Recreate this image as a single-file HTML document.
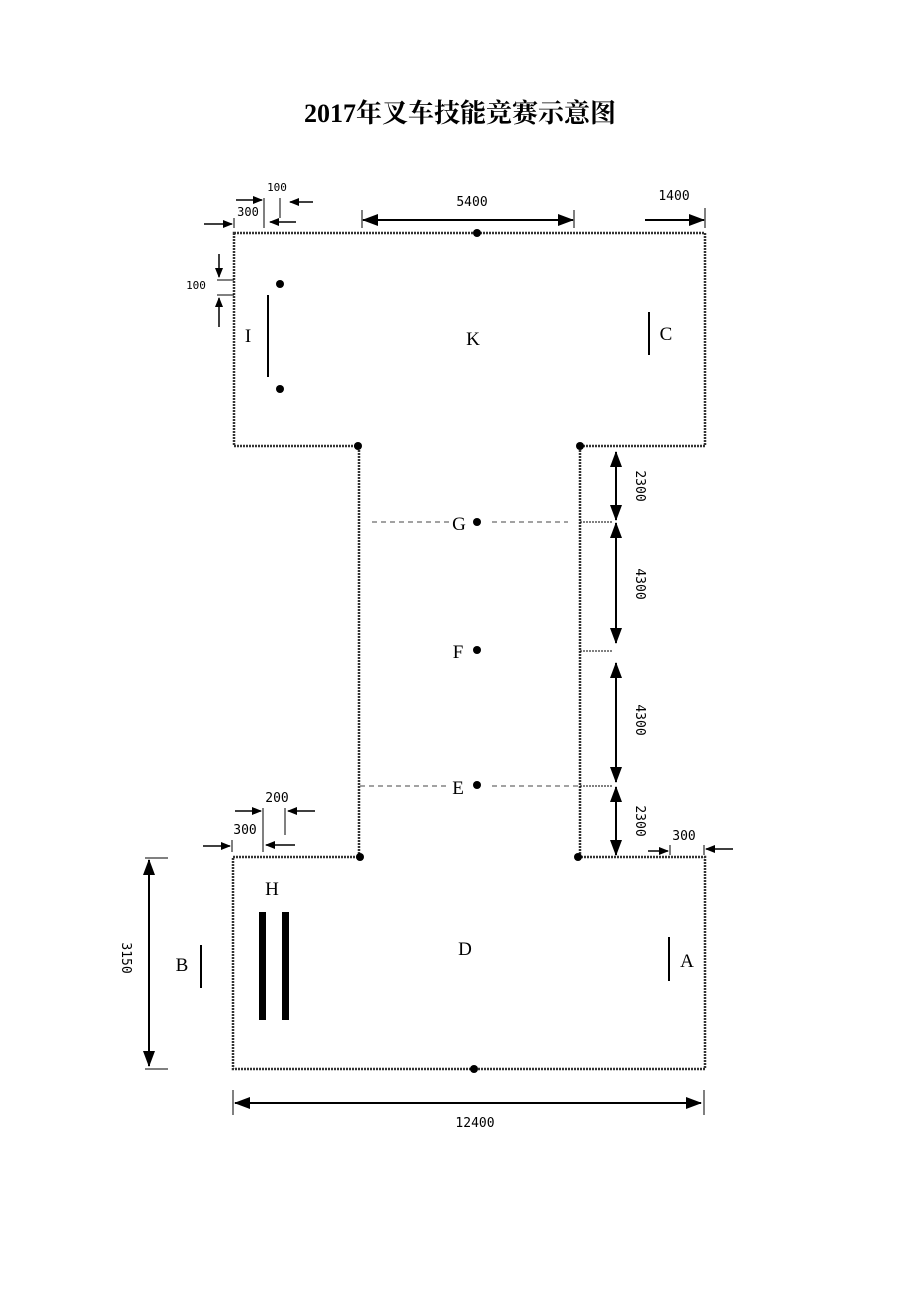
<!DOCTYPE html><html><head><style>body{margin:0;background:#fff}svg{display:block}</style></head><body>
<svg width="920" height="1302" xmlns="http://www.w3.org/2000/svg" font-family="Liberation Serif, serif">
<defs><marker id="a" markerWidth="10" markerHeight="8" refX="9" refY="4" orient="auto" markerUnits="userSpaceOnUse"><path d="M0,0L10,4L0,8z"/></marker>
<marker id="b" markerWidth="16" markerHeight="12" refX="15" refY="6" orient="auto" markerUnits="userSpaceOnUse"><path d="M0,0L16,6L0,12z"/></marker></defs>
<text x="460" y="122" font-size="26" font-weight="bold" text-anchor="middle" font-family="Liberation Serif, Noto Serif CJK SC, serif">2017年叉车技能竞赛示意图</text>
<g stroke="#333" stroke-width="2.5" fill="none" stroke-dasharray="2,1">
<path d="M234,233H705V446H580V857H705V1069H233V857H359V446H234Z"/>
</g>
<g fill="#000">
<circle cx="477" cy="233" r="4"/><circle cx="280" cy="284" r="4"/><circle cx="280" cy="389" r="4"/>
<circle cx="358" cy="446" r="4"/><circle cx="580" cy="446" r="4"/><circle cx="477" cy="522" r="4"/>
<circle cx="477" cy="650" r="4"/><circle cx="477" cy="785" r="4"/><circle cx="360" cy="857" r="4"/>
<circle cx="578" cy="857" r="4"/><circle cx="474" cy="1069" r="4"/>
<rect x="259" y="912" width="7" height="108"/><rect x="282" y="912" width="7" height="108"/>
</g>
<g stroke="#000" stroke-width="1">
<path d="M372,522H450M492,522H568M360,786H448M492,786H580" stroke-dasharray="5,4" stroke="#444"/>
<path d="M580,522H612M580,651H612M580,786H612" stroke-dasharray="2,1"/>
<path d="M268,295V377M649,312V355M201,945V988M669,937V981" stroke-width="2"/>
<path d="M362,210V228M574,210V228M705,208V228M234,218V228M264,198V228M280,198V218M217,280H234M217,295H234"/>
<path d="M145,858H168M145,1069H168M233,1090V1115M704,1090V1115M232,840V852M263,808V852M285,808V835M670,845V855M704,845V855"/>
</g>
<g stroke="#000" stroke-width="2" fill="none">
<path d="M366,220H573" marker-end="url(#b)"/><path d="M570,220H363" marker-end="url(#b)"/>
<path d="M645,220H704" marker-end="url(#b)"/>
<path d="M616,455V520" marker-end="url(#b)"/><path d="M616,518V452" marker-end="url(#b)"/>
<path d="M616,526V643" marker-end="url(#b)"/><path d="M616,640V523" marker-end="url(#b)"/>
<path d="M616,665V782" marker-end="url(#b)"/><path d="M616,780V663" marker-end="url(#b)"/>
<path d="M616,790V855" marker-end="url(#b)"/><path d="M616,852V787" marker-end="url(#b)"/>
<path d="M149,862V1066" marker-end="url(#b)"/><path d="M149,1064V860" marker-end="url(#b)"/>
<path d="M236,1103H701" marker-end="url(#b)"/><path d="M699,1103H235" marker-end="url(#b)"/>
</g>
<g stroke="#000" stroke-width="1.5" fill="none">
<path d="M204,224H232" marker-end="url(#a)"/><path d="M236,200H262" marker-end="url(#a)"/>
<path d="M313,202H290" marker-end="url(#a)"/><path d="M296,222H270" marker-end="url(#a)"/>
<path d="M219,254V277" marker-end="url(#a)"/><path d="M219,327V298" marker-end="url(#a)"/>
<path d="M203,846H230" marker-end="url(#a)"/><path d="M235,811H261" marker-end="url(#a)"/>
<path d="M315,811H288" marker-end="url(#a)"/><path d="M295,845H266" marker-end="url(#a)"/>
<path d="M648,851H668" marker-end="url(#a)"/><path d="M733,849H706" marker-end="url(#a)"/>
</g>
<g font-family="DejaVu Sans Mono, monospace" font-size="13" text-anchor="middle">
<text x="472" y="206">5400</text><text x="674" y="200">1400</text>
<text x="277" y="191" font-size="11">100</text><text x="248" y="216" font-size="12">300</text>
<text x="196" y="289" font-size="11">100</text>
<text x="245" y="834">300</text><text x="277" y="802">200</text><text x="684" y="840">300</text>
<text x="475" y="1127">12400</text>
<text transform="translate(636,486) rotate(90)">2300</text>
<text transform="translate(636,584) rotate(90)">4300</text>
<text transform="translate(636,720) rotate(90)">4300</text>
<text transform="translate(636,821) rotate(90)">2300</text>
<text transform="translate(122,958) rotate(90)">3150</text>
</g>
<g font-size="19" text-anchor="middle">
<text x="248" y="342">I</text><text x="473" y="345">K</text><text x="666" y="340">C</text>
<text x="459" y="530">G</text><text x="458" y="658">F</text><text x="458" y="794">E</text>
<text x="272" y="895">H</text><text x="182" y="971">B</text><text x="465" y="955">D</text><text x="687" y="967">A</text>
</g>
</svg></body></html>
